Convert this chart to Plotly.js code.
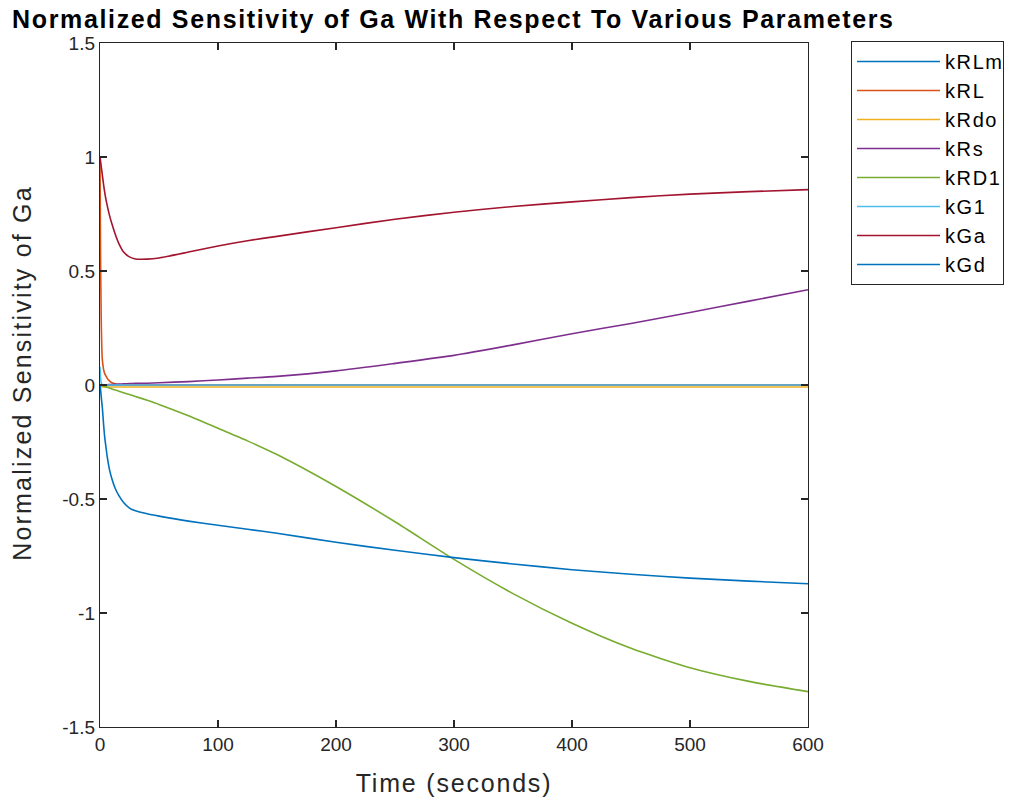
<!DOCTYPE html>
<html>
<head>
<meta charset="utf-8">
<script src="https://cdn.plot.ly/plotly-3.0.1.min.js"></script>
<style>
html,body{margin:0;padding:0;background:#fff;}
#chart{width:1013px;height:805px;}
#chart .gtitle{letter-spacing:1.65px;}
#chart .xtitle{letter-spacing:1.8px;}
#chart .annotation-text{letter-spacing:2.2px;}
#chart .legendtext{letter-spacing:1.6px;}
</style>
</head>
<body>
<div id="chart"></div>
<script>
// Time points (seconds)
const time = [0,0.5,1,1.5,2,3,4,5,6,8,10,13,16,20,25,30,40,50,75,100,125,150,200,250,300,350,400,450,500,550,600];

// Series names
const seriesNames = ["kRLm","kRL","kRdo","kRs","kRD1","kG1","kGa","kGd"];

// Series values (normalized sensitivity)
const kRLm = [0,0,0,0,0,0,0,0,0,0,0,0,0,0,0,0,0,0,0,0,0,0,0,0,0,0,0,0,0,0,0];
const kRL  = [1.0,0.55,0.3,0.17,0.11,0.07,0.05,0.04,0.03,0.018,0.01,0.005,0.002,0.001,0,0,0,0,0,0,0,0,0,0,0,0,0,0,0,0,0];
const kRdo = [0,-0.004,-0.007,-0.008,-0.009,-0.009,-0.009,-0.009,-0.009,-0.009,-0.009,-0.009,-0.009,-0.009,-0.009,-0.009,-0.009,-0.009,-0.009,-0.009,-0.009,-0.009,-0.009,-0.009,-0.009,-0.009,-0.009,-0.009,-0.009,-0.009,-0.009];
const kRs  = [0,0,0,0,0,0,0.001,0.001,0.001,0.002,0.002,0.003,0.004,0.005,0.006,0.007,0.008,0.01,0.015,0.022,0.03,0.038,0.062,0.095,0.13,0.176,0.225,0.27,0.318,0.368,0.418];
const kRD1 = [0,-0.001,-0.002,-0.003,-0.003,-0.005,-0.007,-0.008,-0.01,-0.013,-0.017,-0.022,-0.027,-0.034,-0.042,-0.05,-0.067,-0.085,-0.135,-0.19,-0.245,-0.305,-0.445,-0.6,-0.765,-0.915,-1.045,-1.155,-1.24,-1.3,-1.345];
const kG1  = [0.08,0.03,0.01,0.004,0,0,0,0,0,0,0,0,0,0,0,0,0,0,0,0,0,0,0,0,0,0,0,0,0,0,0];
const kGa  = [1.0,0.98,0.96,0.94,0.92,0.88,0.845,0.815,0.79,0.745,0.708,0.66,0.62,0.583,0.562,0.553,0.552,0.557,0.583,0.61,0.633,0.652,0.69,0.727,0.758,0.783,0.803,0.822,0.837,0.848,0.857];
const kGd  = [0,-0.02,-0.05,-0.075,-0.1,-0.17,-0.23,-0.27,-0.31,-0.37,-0.41,-0.455,-0.485,-0.515,-0.54,-0.552,-0.565,-0.575,-0.597,-0.615,-0.633,-0.65,-0.69,-0.725,-0.757,-0.785,-0.81,-0.83,-0.847,-0.86,-0.872];

const seriesValues = [kRLm,kRL,kRdo,kRs,kRD1,kG1,kGa,kGd];
const colors = ["#0072BD","#D95319","#EDB120","#7E2F8E","#77AC30","#4DBEEE","#A2142F","#0072BD"];

const xTicks = [0,100,200,300,400,500,600];
const yTicks = [-1.5,-1,-0.5,0,0.5,1,1.5];
const yTickText = ["-1.5","-1","-0.5","0","0.5","1","1.5"];

const traces = seriesNames.map((name,i)=>({
  x: time, y: seriesValues[i], name: name, type: "scatter", mode: "lines",
  line: {color: colors[i], width: 1.6, shape: "spline", smoothing: 0.6}
}));

const axisCommon = {
  showline: true, linecolor: "#262626", linewidth: 1.2, mirror: "ticks",
  ticks: "inside", ticklen: 7, tickwidth: 1.2, tickcolor: "#262626",
  showgrid: false, zeroline: false, automargin: false,
  tickfont: {family: "Liberation Sans, Arial, sans-serif", size: 19, color: "#262626"}
};

const layout = {
  width: 1013, height: 805,
  margin: {l: 100, r: 205, t: 43, b: 78, autoexpand: false},
  paper_bgcolor: "#fff", plot_bgcolor: "#fff",
  title: {
    text: "<b>Normalized Sensitivity of Ga With Respect To Various Parameters</b>",
    font: {family: "Liberation Sans, Arial, sans-serif", size: 25, color: "#000"},
    x: 12/1013, xanchor: "left", xref: "container",
    y: 1 - 19/805, yanchor: "middle", yref: "container"
  },
  xaxis: Object.assign({}, axisCommon, {
    range: [0,600], tickvals: xTicks, ticktext: xTicks.map(String),
    title: {text: "Time (seconds)", font: {family: "Liberation Sans, Arial, sans-serif", size: 25, color: "#262626"}, standoff: 20}
  }),
  yaxis: Object.assign({}, axisCommon, {
    range: [-1.5,1.5], tickvals: yTicks, ticktext: yTickText
  }),
  annotations: [{
    text: "Normalized Sensitivity of Ga", textangle: -90, showarrow: false,
    xref: "paper", yref: "paper", x: (22-100)/708, y: (727-373)/684,
    xanchor: "center", yanchor: "middle",
    font: {family: "Liberation Sans, Arial, sans-serif", size: 25, color: "#262626"}
  }],
  showlegend: true,
  legend: {
    x: (851-100)/708, xanchor: "left", y: (727-41)/684, yanchor: "top",
    bgcolor: "#fff", bordercolor: "#262626", borderwidth: 1,
    font: {family: "Liberation Sans, Arial, sans-serif", size: 20, color: "#000"},
    itemwidth: 83, tracegroupgap: 0
  }
};

Plotly.newPlot("chart", traces, layout, {displayModeBar: false, staticPlot: true});
</script>
</body>
</html>
